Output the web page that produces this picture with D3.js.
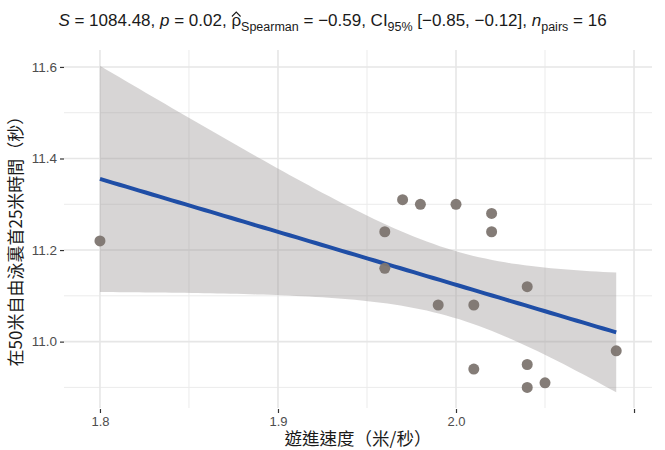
<!DOCTYPE html>
<html>
<head>
<meta charset="utf-8">
<script src="https://cdn.jsdelivr.net/npm/d3@7"></script>
<style>
  body { margin: 0; background: #fff; }
  svg { display: block; }
</style>
</head>
<body>
<svg id="chart" width="665" height="450"></svg>
<script>
// ---- data ----
const speed = [1.80, 1.96, 1.96, 1.97, 1.98, 2.00, 2.02, 2.02, 1.99, 2.01, 2.04, 2.01, 2.04, 2.04, 2.05, 2.09];
const time25 = [11.22, 11.24, 11.16, 11.31, 11.30, 11.30, 11.28, 11.24, 11.08, 11.08, 11.12, 10.94, 10.95, 10.90, 10.91, 10.98];
const xTicks = [1.8, 1.9, 2.0, 2.1];
const xTickLabels = ["1.8", "1.9", "2.0", ""];
const yTicks = [11.0, 11.2, 11.4, 11.6];
const yTickLabels = ["11.0", "11.2", "11.4", "11.6"];
const xMinor = [1.85, 1.95, 2.05];
const yMinor = [10.9, 11.1, 11.3, 11.5];
const xTitle = "遊進速度（米/秒）";
const yTitle = "在50米自由泳裏首25米時間（秒）";

const svg = d3.select("#chart");
const panel = { left: 64, right: 652, top: 50, bottom: 408 };

const x = d3.scaleLinear().domain([1.7798, 2.1101]).range([panel.left, panel.right]);
const y = d3.scaleLinear().domain([10.855, 11.637]).range([panel.bottom, panel.top]);

// ---- linear fit with 95% CI (as geom_smooth(method = "lm")) ----
const n = speed.length;
const mx = d3.mean(speed), my = d3.mean(time25);
let sxx = 0, sxy = 0;
for (let i = 0; i < n; i++) { sxx += (speed[i]-mx)**2; sxy += (speed[i]-mx)*(time25[i]-my); }
const slope = sxy / sxx, intercept = my - slope * mx;
let sse = 0;
for (let i = 0; i < n; i++) { sse += (time25[i] - (intercept + slope*speed[i]))**2; }
const s = Math.sqrt(sse / (n - 2));
const tq = 2.144787; // qt(0.975, 14)
const xs = d3.range(80).map(i => d3.min(speed) + i * (d3.max(speed) - d3.min(speed)) / 79);
const fit = xs.map(v => {
  const yh = intercept + slope * v;
  const se = s * Math.sqrt(1/n + (v-mx)**2 / sxx);
  return { x: v, y: yh, lo: yh - tq*se, hi: yh + tq*se };
});

// ---- grid ----
const g = svg.append("g");
g.selectAll(".ymin").data(yMinor).join("line")
  .attr("x1", panel.left).attr("x2", panel.right)
  .attr("y1", d => y(d)).attr("y2", d => y(d))
  .attr("stroke", "#ebebeb").attr("stroke-width", 1);
g.selectAll(".xmin").data(xMinor).join("line")
  .attr("y1", panel.top).attr("y2", panel.bottom)
  .attr("x1", d => x(d)).attr("x2", d => x(d))
  .attr("stroke", "#ebebeb").attr("stroke-width", 1);
g.selectAll(".ymaj").data(yTicks).join("line")
  .attr("x1", panel.left).attr("x2", panel.right)
  .attr("y1", d => y(d)).attr("y2", d => y(d))
  .attr("stroke", "#e6e6e6").attr("stroke-width", 1.6);
g.selectAll(".xmaj").data(xTicks).join("line")
  .attr("y1", panel.top).attr("y2", panel.bottom)
  .attr("x1", d => x(d)).attr("x2", d => x(d))
  .attr("stroke", "#e6e6e6").attr("stroke-width", 1.6);

// ---- ribbon & line ----
svg.append("path").datum(fit)
  .attr("d", d3.area().x(d => x(d.x)).y0(d => y(d.lo)).y1(d => y(d.hi)))
  .attr("fill", "#9a9696").attr("fill-opacity", 0.4);
svg.append("path").datum(fit)
  .attr("d", d3.line().x(d => x(d.x)).y(d => y(d.y)))
  .attr("fill", "none").attr("stroke", "#1f4ea6").attr("stroke-width", 4);

// ---- points ----
svg.selectAll(".pt").data(d3.range(n)).join("circle")
  .attr("cx", i => x(speed[i])).attr("cy", i => y(time25[i]))
  .attr("r", 5.5).attr("fill", "#7d7570").attr("fill-opacity", 0.95);

// ---- axes ----
const xAxis = d3.axisBottom(x).tickValues(xTicks).tickFormat((d, i) => xTickLabels[i]).tickSize(4).tickPadding(4);
const gx = svg.append("g").attr("transform", `translate(0,${panel.bottom + 1})`).call(xAxis);
gx.select(".domain").remove();
gx.selectAll(".tick line").attr("stroke", "#333").attr("stroke-width", 1.2);
gx.selectAll("text").attr("fill", "#4d4d4d").style("font", "13px 'Liberation Sans', Arial, sans-serif");

const yAxis = d3.axisLeft(y).tickValues(yTicks).tickFormat((d, i) => yTickLabels[i]).tickSize(4).tickPadding(3);
const gy = svg.append("g").attr("transform", `translate(${panel.left},0)`).call(yAxis);
gy.select(".domain").remove();
gy.selectAll(".tick line").attr("stroke", "#333").attr("stroke-width", 1.2);
gy.selectAll("text").attr("fill", "#4d4d4d").style("font", "13.5px 'Liberation Sans', Arial, sans-serif");

// ---- axis titles ----
svg.append("text").text(xTitle)
  .attr("x", (panel.left + panel.right)/2).attr("y", 445)
  .attr("text-anchor", "middle").attr("fill", "#1a1a1a")
  .style("font", "17.5px 'Noto Sans CJK TC', sans-serif");
svg.append("text").text(yTitle)
  .attr("transform", `translate(22,${(panel.top + panel.bottom)/2 + 8}) rotate(-90)`)
  .attr("text-anchor", "middle").attr("fill", "#1a1a1a")
  .style("font", "17px 'Noto Sans CJK TC', sans-serif");

// ---- subtitle (statistics) ----
const t = svg.append("text").attr("x", 332.5).attr("y", 26).attr("text-anchor", "middle")
  .attr("fill", "#1a1a1a").style("font", "17px 'Liberation Sans', Arial, sans-serif");
const parts = [
  ["S", "it"], [" = 1084.48, ", ""], ["p", "it"], [" = 0.02, ", ""],
  ["ρ", "rho"], ["Spearman", "sub"], [" = −0.59, CI", ""], ["95%", "sub"],
  [" [−0.85, −0.12], ", ""], ["n", "it"], ["pairs", "sub"], [" = 16", ""]
];
let prevSub = false, rhoIndex = 0, count = 0;
parts.forEach(([txt, kind]) => {
  const ts = t.append("tspan").text(txt);
  if (kind === "rho") rhoIndex = count;
  count += txt.length;
  if (kind === "it") ts.attr("font-style", "italic");
  if (kind === "sub") { ts.attr("font-size", "12.5px").attr("dy", 4.5); prevSub = true; }
  else if (prevSub) { ts.attr("dy", -4.5); prevSub = false; }
});
// hat over rho
const ext = t.node().getExtentOfChar(rhoIndex);
const hx0 = ext.x + 0.5, hx1 = ext.x + ext.width - 0.5, hy = ext.y + 1;
svg.append("path")
  .attr("d", `M${hx0},${hy + 4.5} L${(hx0 + hx1)/2},${hy} L${hx1},${hy + 4.5}`)
  .attr("fill", "none").attr("stroke", "#1a1a1a").attr("stroke-width", 1.1);
</script>
</body>
</html>
